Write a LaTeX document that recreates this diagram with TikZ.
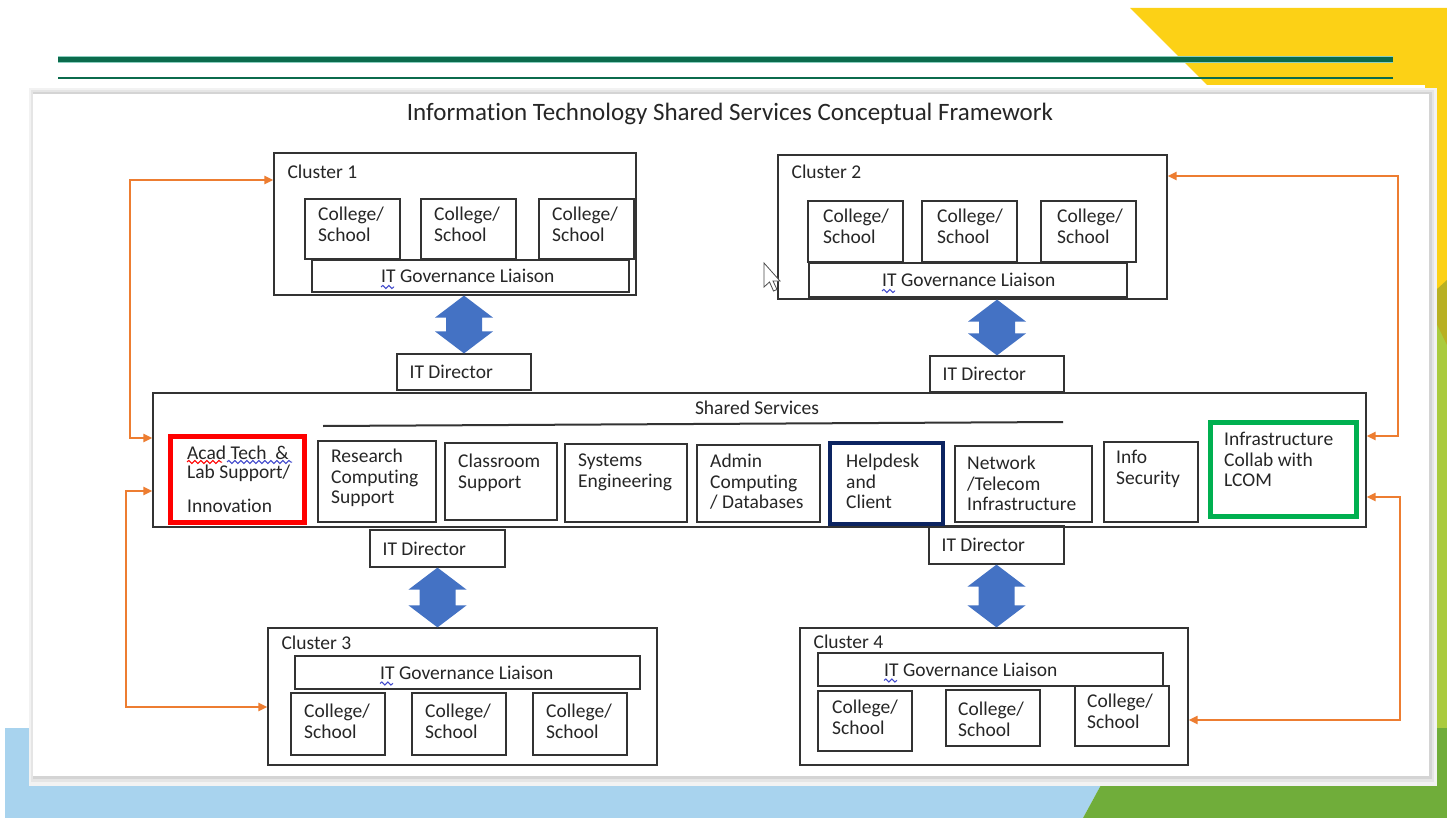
\documentclass[tikz,border=0pt]{standalone}
\usepackage{fontspec}
\setmainfont{Carlito}[Ligatures=NoCommon]
\usetikzlibrary{calc,fit,arrows.meta,decorations.pathmorphing}

\definecolor{ygold}{HTML}{FCD116}
\definecolor{skyb}{HTML}{A8D3EE}
\definecolor{lgrn}{HTML}{AACB3E}
\definecolor{dgrn}{HTML}{70AD3A}
\definecolor{olv}{HTML}{B8B022}
\definecolor{rule}{HTML}{0B6B4C}
\definecolor{rulelt}{HTML}{8CCFC0}
\definecolor{boxc}{HTML}{333333}
\definecolor{txtc}{HTML}{262626}
\definecolor{arrb}{HTML}{4472C4}
\definecolor{orng}{HTML}{ED7D31}
\definecolor{redb}{HTML}{FF0000}
\definecolor{navyb}{HTML}{0C2461}
\definecolor{grnb}{HTML}{00B050}
\definecolor{spellb}{HTML}{3F48CC}

\newcommand\bodyfont{\fontsize{19.5}{20.5}\selectfont}

\begin{document}
\begin{tikzpicture}[x=1pt,y=-1pt,
    box/.style={draw=boxc,line width=1.2pt,inner sep=0pt},
    redbox/.style={draw=redb,line width=5pt,inner sep=0pt},
    navybox/.style={draw=navyb,line width=4pt,inner sep=0pt},
    grnbox/.style={draw=grnb,line width=5pt,inner sep=0pt},
    txt/.style={font=\bodyfont,text=txtc,inner sep=0pt,align=left,anchor=north west},
    orarr/.style={draw=orng,line width=2pt,>={Triangle[length=9pt,width=8pt]}},
    squig/.style={decorate,decoration={snake,segment length=6pt,amplitude=1.6pt},line width=1pt}]

    \useasboundingbox (0,0) rectangle (1447,818);

    % slide background
    \fill[ygold] (1130,8) -- (1447,8) -- (1447,300) -- (1425,300) -- (1425,85) -- (1207,85) -- cycle;
    \fill[lgrn] (1425,300) rectangle (1447,728);
    \fill[olv] (1425,300) -- (1447,280) -- (1447,345) -- cycle;
    \fill[skyb] (5,728) -- (1132,728) -- (1083,818) -- (5,818) -- cycle;
    \fill[dgrn] (1132,728) -- (1447,728) -- (1447,818) -- (1083,818) -- cycle;
    \draw[rulelt,line width=7pt] (58,60) -- (1393,60);
    \draw[rule,line width=5pt] (58,60) -- (1393,60);
    \draw[rule,line width=2pt] (58,78) -- (1393,78);

    % card with shadow
    \fill[black!5] (29,88) rectangle (1437,786);
    \fill[black!10] (31,90) rectangle (1434,782);
    \fill[black!17] (33,92) rectangle (1432,779);
    \fill[white] (33,94) rectangle (1429,776);

    \node[font=\fontsize{25}{28}\selectfont,text=txtc,inner sep=0pt] (title) at (730,114)
        {Information Technology Shared Services Conceptual Framework};

    % clusters
    \foreach \n/\xa/\ya/\xb/\yb/\dy/\t in {cl1/274/153/636/295/12/Cluster 1, cl2/778/155/1167/299/10/Cluster 2,
        cl3/268/628/657/765/8/Cluster 3, cl4/800/628/1188/765/7/Cluster 4}{
        \node[box,fit={(\xa,\ya) (\xb,\yb)}] (\n) {};
        \node[txt] (\n-t) at ($(\n.north west)+(14,\dy)$) {\t};
    }

    % colleges
    \foreach \n/\xa/\ya/\xb/\yb/\tx/\ty in {
        c11/305/199/400/259/318/207, c12/421/199/516/259/434/207, c13/539/199/634/259/552/207,
        c21/808/201/903/262/823/209, c22/922/201/1017/262/937/209, c23/1041/201/1136/262/1057/209,
        c31/291/693/385/755/304/704, c32/412/693/506/755/425/704, c33/533/693/627/755/546/704,
        c41/818/691/912/751/832/700, c42/946/690/1040/746/958/702, c43/1075/686/1169/746/1087/694}{
        \node[box,fill=white,fit={(\xa,\ya) (\xb,\yb)}] (\n) {};
        \node[txt] (\n-t) at (\tx,\ty) {College/\\School};
    }

    % governance liaisons
    \foreach \n/\xa/\ya/\xb/\yb/\tx in {g1/312/260/629/292/381, g2/809/263/1127/297/882,
        g3/295/656/640/689/380, g4/818/653/1163/686/884}{
        \node[box,fill=white,fit={(\xa,\ya) (\xb,\yb)}] (\n) {};
        \node[txt,anchor=west] (\n-t) at (\tx,0 |- \n.west) {IT Governance Liaison};
        \draw[spellb,squig] ($(\n-t.south west)+(0,4)$) -- ++(13,0);
    }

    % IT directors
    \foreach \n/\xa/\ya/\xb/\yb in {d1/397/354/531/390, d2/930/356/1064/392,
        d3/370/530/505/567, d4/929/526/1064/564}{
        \node[box,fit={(\xa,\ya) (\xb,\yb)}] (\n) {};
        \node[txt,anchor=west] (\n-t) at ($(\n.west)+(13,0)$) {IT Director};
    }

    % shared services
    \node[box,fit={(153,393) (1366,527)}] (shared) {};
    \node[txt,anchor=center] (shared-t) at (757,408) {Shared Services};
    \draw[boxc,line width=2pt] (323,426) -- (1063,422);

    \foreach \n/\xa/\ya/\xb/\yb/\s/\tx/\ty/\t in {
        acad/170/436/304/522/redbox/187/446/{Acad Tech\ \ \&\\[-2pt]Lab Support/\\[14pt]Innovation},
        rcs/318/441/436/522/box/331/449/{Research\\Computing\\Support},
        cls/445/443/557/520/box/458/454/{Classroom\\Support},
        sys/565/444/687/522/box/578/454/{Systems\\Engineering},
        adm/697/445/820/522/box/710/454/{Admin\\Computing\\/ Databases},
        help/830/443/943/524/navybox/846/454/{Helpdesk\\and\\Client},
        net/955/446/1092/522/box/967/456/{Network\\/Telecom\\Infrastructure},
        info/1104/442/1198/522/box/1116/450/{Info\\Security},
        infra/1210/422/1356/516/grnbox/1224/432/{Infrastructure\\Collab with\\LCOM}}{
        \node[\s,fit={(\xa,\ya) (\xb,\yb)}] (\n) {};
        \node[txt] (\n-t) at (\tx,\ty) {\t};
    }
    \draw[redb,squig] (187,462) -- (222,462);
    \draw[spellb,squig] (227,462) -- (292,462);

    % blue double arrows
    \foreach \u/\d/\c in {cl1/d1/d1, cl2/d2/d2, d3/cl3/d3, d4/cl4/d4}{
        \path (\c |- \u.south) coordinate (tp) (\c |- \d.north) coordinate (bt);
        \fill[arrb] (tp) -- ++(29,22) -- ++(-11,0) -- ($(bt)+(18,-22)$) -- ++(11,0) -- (bt)
            -- ++(-29,-22) -- ++(11,0) -- ($(tp)+(-18,22)$) -- ++(-11,0) -- cycle;
    }

    % orange links
    \coordinate (l1) at (130,180);
    \coordinate (l2) at (130,438);
    \coordinate (l3) at (126,491);
    \coordinate (l4) at (126,707);
    \coordinate (r1) at (1398,176);
    \coordinate (r2) at (1398,436);
    \coordinate (r3) at (1400,497);
    \coordinate (r4) at (1400,720);
    \draw[orarr,<->] (cl1.west |- l1) -- (l1) -- (l2) -- (shared.west |- l2);
    \draw[orarr,<->] (shared.west |- l3) -- (l3) -- (l4) -- (cl3.west |- l4);
    \draw[orarr,<->] (cl2.east |- r1) -- (r1) -- (r2) -- (shared.east |- r2);
    \draw[orarr,<->] (shared.east |- r3) -- (r3) -- (r4) -- (cl4.east |- r4);

    % mouse pointer
    \filldraw[fill=white,draw=black!70,line width=0.8pt,shift={(764,263)}]
        (0,0) -- (0,24) -- (5.5,19) -- (9.5,28) -- (13,26.5) -- (9,18) -- (16,18) -- cycle;

\end{tikzpicture}
\end{document}
